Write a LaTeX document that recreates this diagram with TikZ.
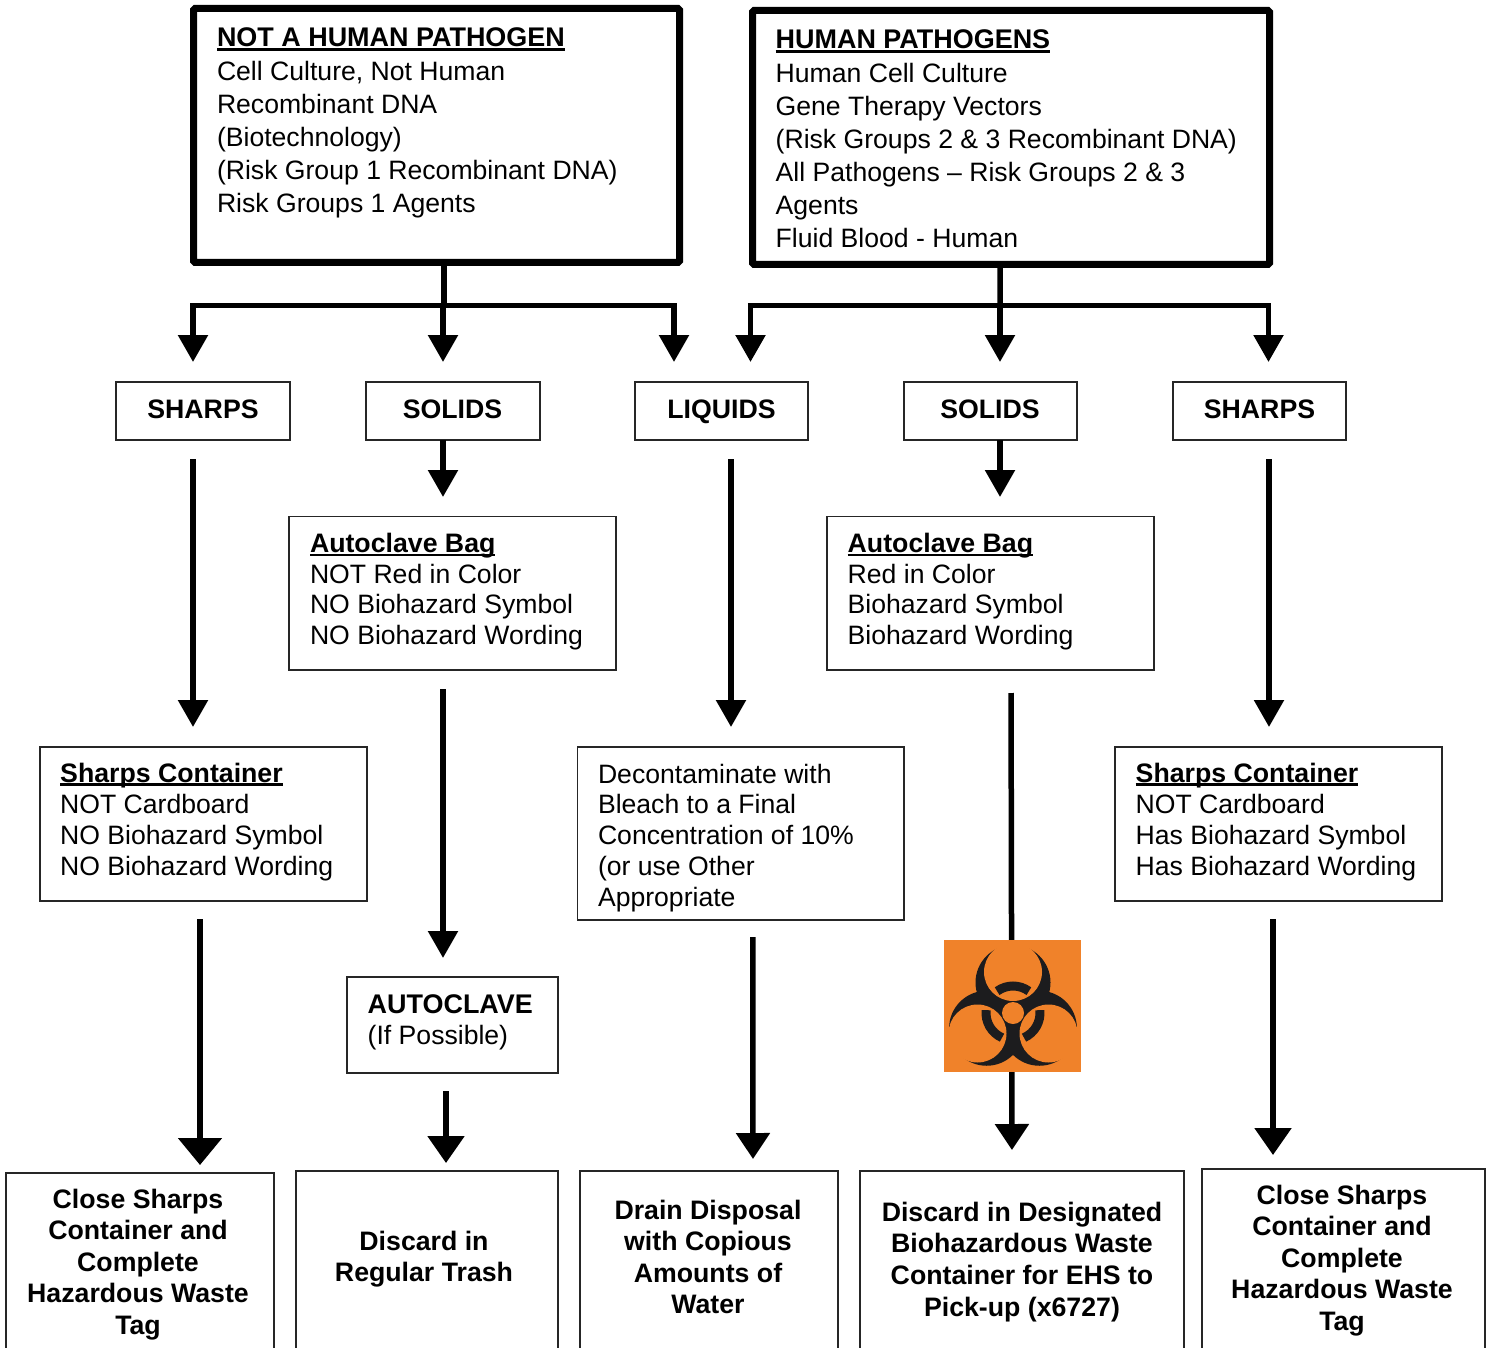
\documentclass[tikz,border=0pt]{standalone}
\usepackage{fontspec}
\setmainfont{Liberation Sans}
\usetikzlibrary{arrows.meta,calc}
\newcommand{\hul}[1]{\setbox0\hbox{#1}\rlap{\rule[-3.6pt]{\wd0}{2.2pt}}\box0}
\newcommand{\fst}{\rule{0pt}{20pt}}
\newcommand{\bfbig}{\fontsize{26.95}{33}\selectfont\bfseries}
\newcommand{\bfmid}{\fontsize{26.7}{31}\selectfont\bfseries}
\newcommand{\pbx}[6]{\node[#6, minimum width={#4-#2}, minimum height={#5-#3}] (#1) at ({(#2+#4)/2},{(#3+#5)/2}) {};}
\definecolor{bioorange}{HTML}{F0822A}
\definecolor{bioblack}{HTML}{1C1C1E}
\tikzset{
  box/.style={draw=black!85, line width=1.6pt, rectangle, inner sep=0pt, outer sep=0pt},
  thickbox/.style={draw=black, line width=7pt, rectangle, rounded corners=1.5pt, inner sep=0pt, outer sep=0pt},
  txt/.style={anchor=north west, inner sep=0pt, outer sep=0pt, align=left, font=\fontsize{26.6}{33}\selectfont},
  txts/.style={txt, font=\fontsize{26.6}{31}\selectfont},
  txtd/.style={txt, font=\fontsize{26.6}{30.8}\selectfont},
  lab/.style={anchor=north, inner sep=0pt, outer sep=0pt, align=center, font=\fontsize{26.7}{31.6}\selectfont\bfseries},
  labw/.style={lab, font=\fontsize{26.7}{31.9}\selectfont\bfseries},
  link/.style={draw=black, line width=5.5pt},
  head/.style={link, -{Triangle[length=27pt,width=29pt]}},
  headb/.style={link, -{Triangle[length=27pt,width=43pt]}},
  headm/.style={link, -{Triangle[length=26pt,width=33pt]}},
  headw/.style={link, -{Triangle[length=27pt,width=36pt]}},
}
\begin{document}
\begin{tikzpicture}[x=1pt,y=-1pt]
\useasboundingbox (0,0) rectangle (1491,1348);
% boxes
\pbx{topL}{193.5}{8.5}{679.5}{262.5}{thickbox}
\pbx{topR}{752.5}{10.5}{1269.5}{264.5}{thickbox}
\pbx{sharpsL}{116}{382}{290}{440}{box}
\pbx{solidsL}{366}{382}{540}{440}{box}
\pbx{liquids}{635}{382}{808}{440}{box}
\pbx{solidsR}{904}{382}{1077}{440}{box}
\pbx{sharpsR}{1173}{382}{1346}{440}{box}
\pbx{bagL}{289}{516.5}{616}{670}{box}
\pbx{bagR}{827}{516.5}{1154}{670}{box}
\pbx{contL}{40}{747}{367}{901}{box}
\pbx{decon}{577.5}{747}{904}{920}{box}
\pbx{contR}{1115}{747}{1442}{901}{box}
\pbx{autocl}{347}{977}{558}{1073}{box}
\pbx{closeL}{6}{1173}{274}{1380}{box}
\pbx{trash}{296}{1171}{558}{1380}{box}
\pbx{drain}{580}{1171}{838}{1380}{box}
\pbx{bins}{860}{1171}{1184}{1380}{box}
\pbx{closeR}{1202}{1169}{1485}{1380}{box}
% texts
\node[txt] (tTopL) at (217,27) {\fst\hul{\bfbig NOT A HUMAN PATHOGEN}\\[1pt]Cell Culture, Not Human\\Recombinant DNA\\(Biotechnology)\\(Risk Group 1 Recombinant DNA)\\Risk Groups 1 Agents};
\node[txt] (tTopR) at (775.7,29) {\fst\hul{\bfbig HUMAN PATHOGENS}\\[1pt]Human Cell Culture\\Gene Therapy Vectors\\(Risk Groups 2 \& 3 Recombinant DNA)\\All Pathogens – Risk Groups 2 \& 3\\Agents\\Fluid Blood - Human};
\node[lab] (tSharpsL) at (203,398) {\fst SHARPS};
\node[lab] (tSolidsL) at (452.5,398) {\fst SOLIDS};
\node[lab] (tLiquids) at (721.5,398) {\fst LIQUIDS};
\node[lab] (tSolidsR) at (990,398) {\fst SOLIDS};
\node[lab] (tSharpsR) at (1259.5,398) {\fst SHARPS};
\node[txtd] (tBagL) at (310,532.3) {\fst\hul{\bfmid Autoclave Bag}\\NOT Red in Color\\NO Biohazard Symbol\\NO Biohazard Wording};
\node[txtd] (tBagR) at (847.7,532.3) {\fst\hul{\bfmid Autoclave Bag}\\Red in Color\\Biohazard Symbol\\Biohazard Wording};
\node[txts] (tContL) at (60.2,762) {\fst\hul{\bfmid Sharps Container}\\NOT Cardboard\\NO Biohazard Symbol\\NO Biohazard Wording};
\node[txtd] (tDecon) at (598,763) {\fst Decontaminate with\\Bleach to a Final\\Concentration of 10\%\\(or use Other\\Appropriate};
\node[txts] (tContR) at (1135.7,762) {\fst\hul{\bfmid Sharps Container}\\NOT Cardboard\\Has Biohazard Symbol\\Has Biohazard Wording};
\node[txts] (tAutocl) at (367.7,993) {\fst{\bfbig AUTOCLAVE}\\(If Possible)};
\node[lab] (tCloseL) at (138,1188) {\fst Close Sharps\\Container and\\Complete\\Hazardous Waste\\Tag};
\node[labw] (tTrash) at (424,1230) {\fst Discard in\\Regular Trash};
\node[lab] (tDrain) at (708,1199) {\fst Drain Disposal\\with Copious\\Amounts of\\Water};
\node[labw] (tBins) at (1022,1201) {\fst Discard in Designated\\Biohazardous Waste\\Container for EHS to\\Pick-up (x6727)};
\node[lab] (tCloseR) at (1342,1184) {\fst Close Sharps\\Container and\\Complete\\Hazardous Waste\\Tag};
% buses
\coordinate (busL) at (444,305.5);
\coordinate (busLa) at (193,305.5);
\coordinate (busLb) at (674,305.5);
\coordinate (busR) at (1000,305.5);
\coordinate (busRa) at (750.5,305.5);
\coordinate (busRb) at (1268.5,305.5);
\draw[link] ([xshift=7.5pt]topL.south) -- (busL);
\draw[link] ([xshift=-10.75pt]topR.south) -- (busR);
\draw[link] ([xshift=-2.75pt]busLa) -- ([xshift=2.75pt]busLb);
\draw[link] ([xshift=-2.75pt]busRa) -- ([xshift=2.75pt]busRb);
\draw[head, shorten >=20pt] (busLa) -- ([xshift=-10pt]sharpsL.north);
\draw[head, shorten >=20pt] ([xshift=-1pt]busL) -- ([xshift=-10pt]solidsL.north);
\draw[head, shorten >=20pt] (busLb) -- ([xshift=-47.5pt]liquids.north);
\draw[head, shorten >=20pt] (busRa) -- ([xshift=29pt]liquids.north);
\draw[head, shorten >=20pt] (busR) -- ([xshift=9.5pt]solidsR.north);
\draw[head, shorten >=20pt] (busRb) -- ([xshift=9pt]sharpsR.north);
% flows
\draw[head, shorten <=19pt, shorten >=20pt] ([xshift=-10pt]sharpsL.south) -- ([xshift=-10.5pt]contL.north);
\draw[head, shorten >=19.5pt] ([xshift=-10pt]solidsL.south) -- ([xshift=-9.5pt]bagL.north);
\draw[head, shorten <=19pt, shorten >=20pt] ([xshift=9.5pt]liquids.south) -- ([xshift=-9.75pt]decon.north);
\draw[head, shorten >=19.5pt] ([xshift=9.5pt]solidsR.south) -- ([xshift=9.5pt]bagR.north);
\draw[head, shorten <=19pt, shorten >=20pt] ([xshift=9.5pt]sharpsR.south) -- ([xshift=-9.5pt]contR.north);
\draw[head, shorten <=19pt, shorten >=19pt] ([xshift=-9.5pt]bagL.south) -- ([xshift=-9.5pt]autocl.north);
\draw[headw, shorten <=18pt, shorten >=8pt] ([xshift=-6.5pt]autocl.south) -- ([xshift=19pt]trash.north);
\draw[headb, shorten <=18pt, shorten >=8pt] ([xshift=-3.5pt]contL.south) -- ([xshift=60pt]closeL.north);
\draw[headm, shorten <=17pt, shorten >=12pt] ([xshift=12pt]decon.south) -- ([xshift=44pt]drain.north);
\draw[headm, shorten <=23pt, shorten >=21pt] ([xshift=20.5pt]bagR.south) -- ([xshift=-10pt]bins.north);
\draw[headw, shorten <=18pt, shorten >=14pt] ([xshift=-5.5pt]contR.south) -- ([xshift=-70.5pt]closeR.north);
% biohazard symbol
\fill[bioorange] (944,940) rectangle (1081,1072);
\begin{scope}[shift={(1013,1013)}, y=1pt]
  \foreach \a in {90,210,330}{
    \fill[bioblack] (\a:30.5) circle (37.5);
  }
  \foreach \a in {90,210,330}{
    \fill[bioorange] (\a:41) circle (29);
  }
  \foreach \a in {90,210,330}{
    \draw[bioblack, line width=9pt] ({\a-36}:27) arc[start angle={\a-36}, end angle={\a+36}, radius=27];
  }
  \fill[bioorange] (0,0) circle (11);
\end{scope}
\end{tikzpicture}
\end{document}
